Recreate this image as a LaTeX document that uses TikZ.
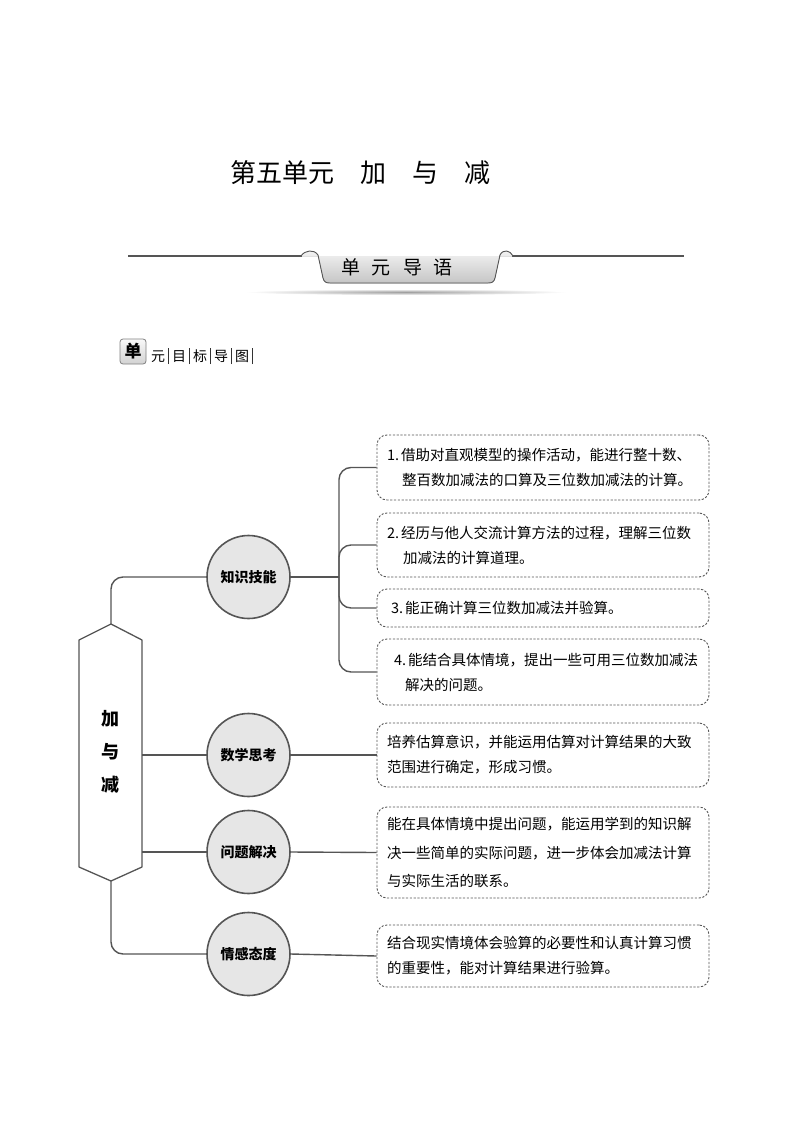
\documentclass[tikz,border=0pt]{standalone}
\usepackage{fontspec}
\setmainfont{Noto Sans CJK SC}
\newcommand\mysepbar{\hspace{3pt}\textcolor[HTML]{333333}{\rule[-3pt]{1pt}{16pt}}\hspace{3pt}}
\begin{document}
\begin{tikzpicture}[x=1pt,y=-1pt,line join=round]
\definecolor{ln}{HTML}{555555}
\definecolor{cf}{HTML}{E6E6E6}
\tikzset{
  conn/.style={draw=ln, line width=1.4pt, rounded corners=12pt},
  topic/.style={circle, draw=ln, line width=1.6pt, fill=cf, minimum size=83pt, inner sep=0pt,
    font=\fontsize{14pt}{16pt}\selectfont\bfseries},
  dbox/.style={draw=ln, line width=0.9pt, dash pattern=on 2.2pt off 1.6pt, rounded corners=10pt,
    minimum width=332pt, text width=312pt, inner xsep=10pt, inner ysep=0pt, align=left,
    font=\fontsize{14.5pt}{25pt}\selectfont},
}
\fill[white] (0,0) rectangle (794,1123);
\useasboundingbox (0,0) rectangle (794,1123);

% title
\node[font=\fontsize{26pt}{30pt}\selectfont] (title) at (360.5,173) {第五单元\hspace{1em}加\hspace{1em}与\hspace{1em}减};

% header band
\draw[ln, line width=1.2pt] (128,256) coordinate (hl1) -- (302,256);
\draw[ln, line width=1.2pt] (512,256) -- (684,256) coordinate (hl2);
\fill[top color=gray!8, bottom color=gray!45] (301,256) .. controls (305,250) and (314,249) .. (318,255)
  -- (323,278) .. controls (324,282) and (326,283) .. (330,283) -- (488,283)
  .. controls (492,283) and (494,282) .. (495,278) -- (500,255)
  .. controls (503,249) and (510,250) .. (513,256) -- cycle;
\draw[ln, line width=0.9pt] (301,256) .. controls (305,250) and (314,249) .. (318,255)
  -- (323,278) .. controls (324,282) and (326,283) .. (330,283) -- (488,283)
  .. controls (492,283) and (494,282) .. (495,278) -- (500,255)
  .. controls (503,249) and (510,250) .. (513,256);
\node[font=\fontsize{19pt}{20pt}\selectfont] (hdr) at (397,267) {单\hspace{12pt}元\hspace{12pt}导\hspace{12pt}语};
\shade[inner color=gray!75, outer color=white] (406,292) ellipse (160pt and 3pt);

% small heading
\node[draw=gray, line width=0.8pt, top color=gray!5, bottom color=gray!35, rounded corners=3pt,
  minimum width=26pt, minimum height=25pt, inner sep=0pt,
  font=\fontsize{17pt}{18pt}\selectfont\bfseries] (dan) at (133,351.5) {单};
\node[anchor=west, inner sep=0pt, font=\fontsize{14pt}{16pt}\selectfont] (mubiao) at (151,356)
  {元\mysepbar 目\mysepbar 标\mysepbar 导\mysepbar 图\mysepbar};

% hexagon
\draw[ln, line width=1.3pt, fill=white] (111,624) coordinate (hT) -- (142,640) -- (142,867)
  -- (111,881) coordinate (hB) -- (79,867) -- (79,640) -- cycle;
\node[font=\fontsize{18pt}{33pt}\selectfont\bfseries, align=center] (hex) at (110.5,752) {加\\与\\减};
\coordinate (h2) at (142,755);
\coordinate (h3) at (142,852);

% topic circles
\node[topic] (c1) at (248.5,577) {知识技能};
\node[topic] (c2) at (248.5,755) {数学思考};
\node[topic] (c3) at (248.5,852) {问题解决};
\node[topic] (c4) at (248.5,954) {情感态度};

% boxes
\node[dbox, minimum height=65pt] (b1) at (543,467.5)
  {1.\hspace{2pt}借助对直观模型的操作活动，能进行整十数、\\\hspace*{15pt}整百数加减法的口算及三位数加减法的计算。};
\node[dbox, minimum height=64pt] (b2) at (543,545)
  {2.\hspace{2pt}经历与他人交流计算方法的过程，理解三位数\\\hspace*{16pt}加减法的计算道理。};
\node[dbox, minimum height=38pt] (b3) at (543,608)
  {\hspace*{4pt}3.\hspace{2pt}能正确计算三位数加减法并验算。};
\node[dbox, minimum height=66pt] (b4) at (543,672)
  {\hspace*{7pt}4.\hspace{2pt}能结合具体情境，提出一些可用三位数加减法\\\hspace*{18pt}解决的问题。};
\node[dbox, minimum height=64pt] (b5) at (543,755)
  {培养估算意识，并能运用估算对计算结果的大致\\范围进行确定，形成习惯。};
\node[dbox, minimum height=91pt, font=\fontsize{14.5pt}{28.5pt}\selectfont] (b6) at (543,852.5)
  {能在具体情境中提出问题，能运用学到的知识解\\决一些简单的实际问题，进一步体会加减法计算\\与实际生活的联系。};
\node[dbox, minimum height=62pt] (b7) at (543,956)
  {结合现实情境体会验算的必要性和认真计算习惯\\的重要性，能对计算结果进行验算。};

% connectors
\draw[conn] (hT) |- (c1.west);
\draw[conn] (h2) -- (c2.west);
\draw[conn] (h3) -- (c3.west);
\draw[conn] (hB) |- (c4.west);
\coordinate (tr) at (339,577);
\draw[conn] (c1.east) -- (tr);
\draw[conn] (tr) |- (b1.west);
\draw[conn] (tr) |- (b2.west);
\draw[conn] (tr) |- (b3.west);
\draw[conn] (tr) |- (b4.west);
\draw[conn] (c2.east) -- (b5.west);
\draw[conn] (c3.east) -- (b6.west);
\draw[conn] (c4.east) -- (b7.west);
\end{tikzpicture}
\end{document}
